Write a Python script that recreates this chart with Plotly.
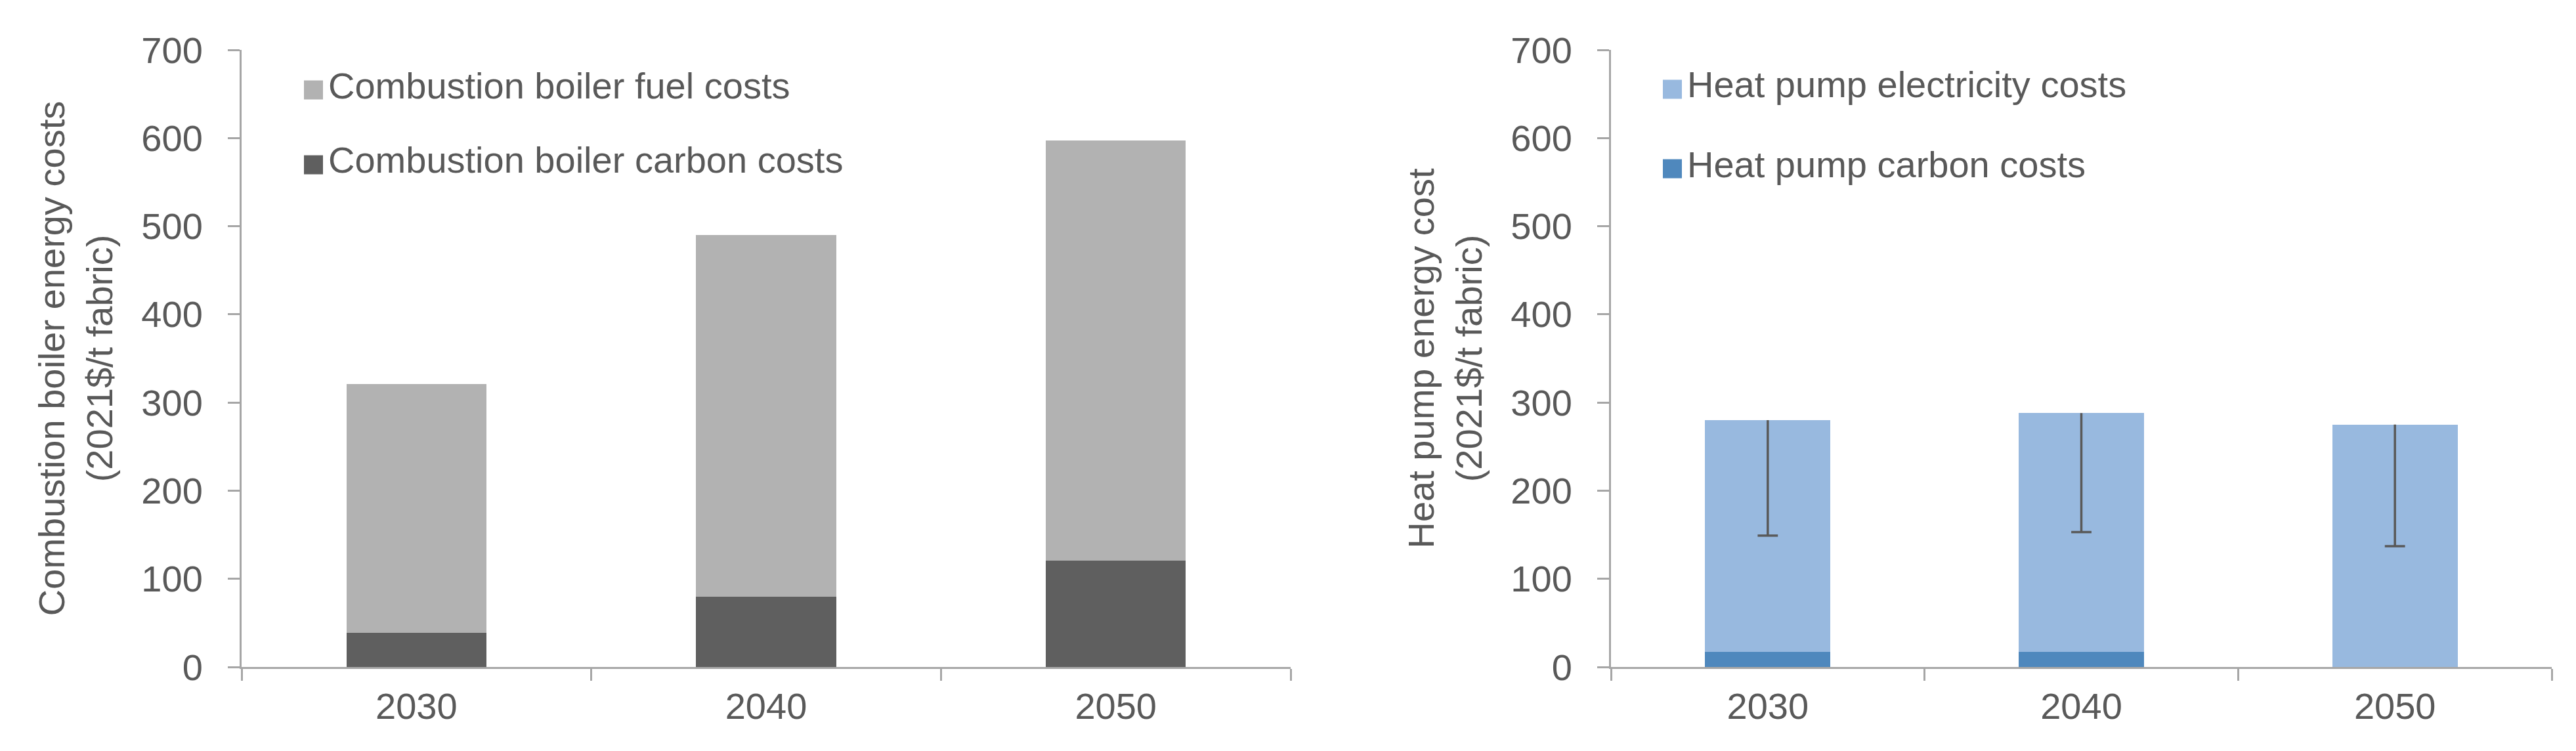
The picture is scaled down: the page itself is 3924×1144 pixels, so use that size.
import plotly.graph_objects as go

# ---------------- data ----------------
years = ["2030", "2040", "2050"]

cb_carbon = [39, 80, 121]          # Combustion boiler carbon costs
cb_fuel = [282, 410, 476]          # Combustion boiler fuel costs (stacked on top)

hp_carbon = [17, 17, 0]            # Heat pump carbon costs
hp_elec = [263, 271, 275]          # Heat pump electricity costs (stacked on top)
hp_low = [149, 153, 137]           # lower end of heat pump range (error bar)

y_ticks = [0, 100, 200, 300, 400, 500, 600, 700]

cb_names = ["Combustion boiler fuel costs", "Combustion boiler carbon costs"]
hp_names = ["Heat pump electricity costs", "Heat pump carbon costs"]
left_title = "Combustion boiler energy costs<br>(2021$/t fabric)"
right_title = "Heat pump energy cost<br>(2021$/t fabric)"

# ---------------- style ----------------
W, H = 3924, 1144
FONT = "Liberation Sans, Arial, sans-serif"
TXT = "#595959"
AXC = "#a6a6a6"
C_FUEL = "#b2b2b2"
C_CB_CARBON = "#5f5f5f"
C_ELEC = "#98b9df"
C_HP_CARBON = "#4f88bd"
ERR = "#595959"
FS = 56


def px_x(v):
    return v / W


def px_y(v):
    return 1 - v / H


fig = go.Figure()

# left chart
fig.add_trace(go.Bar(x=years, y=cb_carbon, name=cb_names[1], marker_color=C_CB_CARBON,
                     marker_line_width=0, xaxis="x", yaxis="y", showlegend=False))
fig.add_trace(go.Bar(x=years, y=cb_fuel, name=cb_names[0], marker_color=C_FUEL,
                     marker_line_width=0, xaxis="x", yaxis="y", showlegend=False))

# right chart
fig.add_trace(go.Bar(x=years, y=hp_carbon, name=hp_names[1], marker_color=C_HP_CARBON,
                     marker_line_width=0, xaxis="x2", yaxis="y2", showlegend=False))
fig.add_trace(go.Bar(x=years, y=hp_elec, name=hp_names[0], marker_color=C_ELEC,
                     marker_line_width=0, xaxis="x2", yaxis="y2", showlegend=False))

hp_total = [c + e for c, e in zip(hp_carbon, hp_elec)]
fig.add_trace(go.Scatter(
    x=years, y=hp_low, mode="markers", xaxis="x2", yaxis="y2", showlegend=False,
    hoverinfo="skip",
    marker=dict(symbol="line-ew", size=22, color=ERR, line=dict(width=3.5, color=ERR)),
    error_y=dict(type="data", symmetric=False,
                 array=[t - l for t, l in zip(hp_total, hp_low)],
                 arrayminus=[0] * len(years), width=0, thickness=3.5, color=ERR),
))

ydom = [px_y(1008), px_y(68)]

common_x = dict(type="category", showline=True, linecolor=AXC, linewidth=3,
                ticks="outside", tickson="boundaries", ticklen=18, tickwidth=3,
                tickcolor=AXC, showgrid=False, zeroline=False, automargin=False,
                ticklabelstandoff=9,
                tickfont=dict(size=FS, color=TXT, family=FONT))
common_y = dict(range=[0, 700], tickvals=y_ticks, showline=True, linecolor=AXC,
                linewidth=3, ticks="outside", ticklen=18, tickwidth=3, tickcolor=AXC,
                showgrid=False, zeroline=False, automargin=False,
                ticklabelstandoff=27,
                tickfont=dict(size=FS, color=TXT, family=FONT))

fig.update_layout(
    width=W, height=H,
    paper_bgcolor="white", plot_bgcolor="white",
    margin=dict(l=0, r=0, t=0, b=0, autoexpand=False),
    barmode="stack", bargap=0.6,
    font=dict(family=FONT, color=TXT, size=FS),
    xaxis=dict(domain=[px_x(360), px_x(1958)], anchor="y", **common_x),
    yaxis=dict(domain=ydom, anchor="x",
               title=dict(text=left_title, font=dict(size=FS, color=TXT, family=FONT), standoff=26),
               **common_y),
    xaxis2=dict(domain=[px_x(2446), px_x(3879)], anchor="y2", **common_x),
    yaxis2=dict(domain=ydom, anchor="x2",
                title=dict(text=right_title, font=dict(size=FS, color=TXT, family=FONT), standoff=26),
                **common_y),
)

# legends (drawn as boxes + text, matching the reference's large keys)
legend_items = [
    (cb_names[0], C_FUEL, 455, 129),
    (cb_names[1], C_CB_CARBON, 455, 243),
    (hp_names[0], C_ELEC, 2525, 128),
    (hp_names[1], C_HP_CARBON, 2525, 249),
]
for name, col, x0, yc in legend_items:
    fig.add_shape(type="rect", xref="paper", yref="paper",
                  x0=px_x(x0), x1=px_x(x0 + 29), y0=px_y(yc + 14.5), y1=px_y(yc - 14.5),
                  fillcolor=col, line_width=0)
    fig.add_annotation(text=name, xref="paper", yref="paper", x=px_x(x0 + 35), y=px_y(yc - 7),
                       xanchor="left", yanchor="middle", showarrow=False,
                       font=dict(size=FS, color=TXT, family=FONT))

fig.write_html("out.html")
